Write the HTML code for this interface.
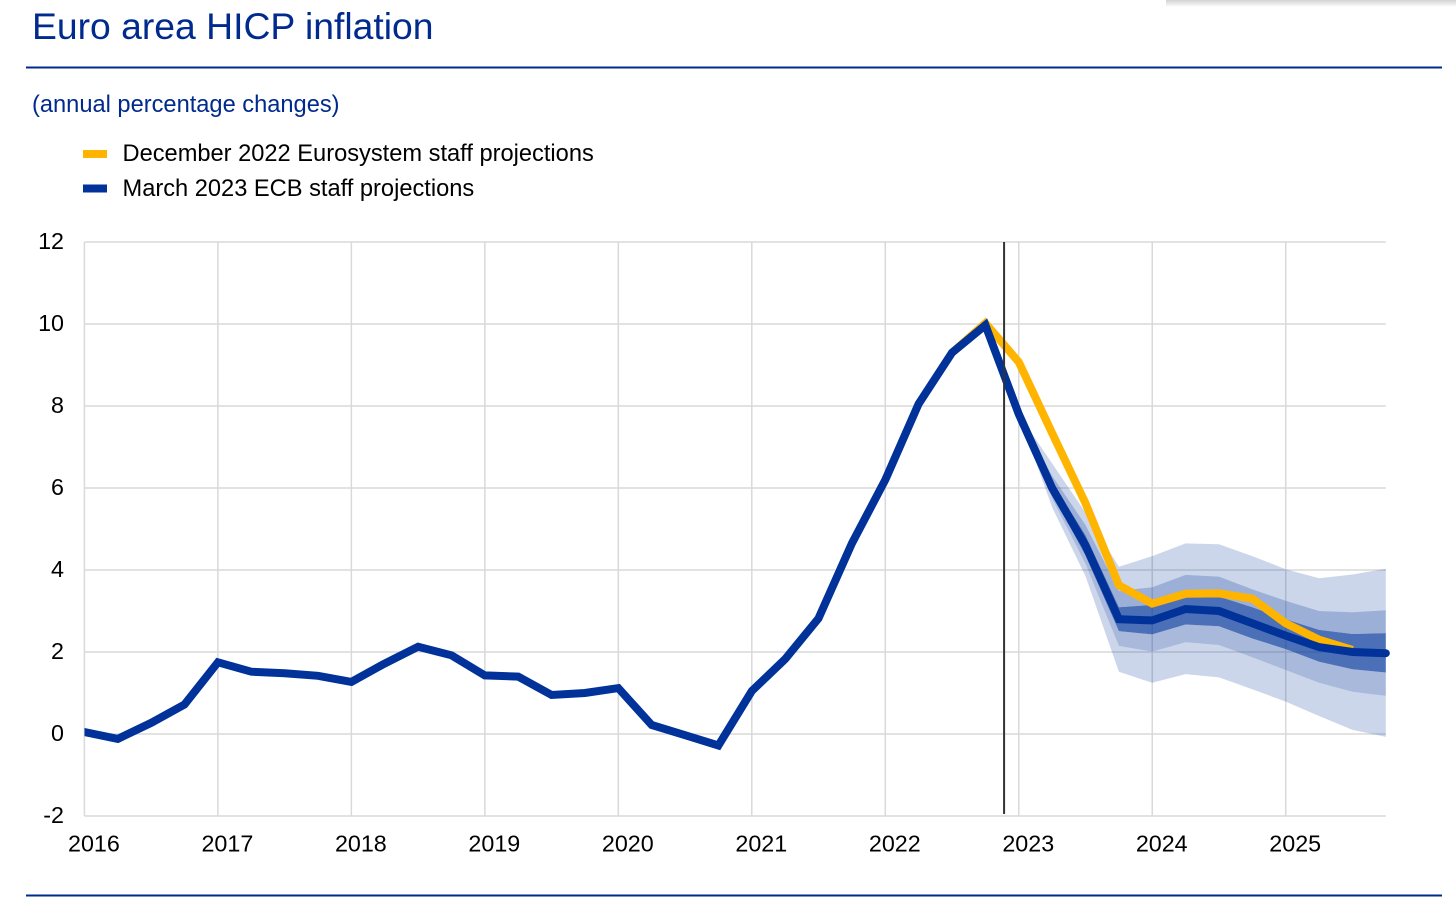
<!DOCTYPE html>
<html lang="en">
<head>
<meta charset="utf-8">
<title>Euro area HICP inflation</title>
<style>
html,body{margin:0;padding:0;background:#fff;width:1456px;height:906px;overflow:hidden}
svg{display:block;font-family:"Liberation Sans",Arial,sans-serif}
</style>
</head>
<body>
<svg id="chart" xmlns="http://www.w3.org/2000/svg" width="1456" height="906" viewBox="0 0 1456 906">
  <defs>
    <linearGradient id="shadowGrad" x1="0" y1="0" x2="0" y2="1">
      <stop offset="0" stop-color="#d2d2d2"/>
      <stop offset="1" stop-color="#ffffff"/>
    </linearGradient>
    <clipPath id="plotClip">
      <rect x="84.5" y="200" width="1360" height="640"/>
    </clipPath>
  </defs>
  <rect x="0" y="0" width="1456" height="906" fill="#ffffff"/>
  <rect x="1166" y="0" width="290" height="7" fill="url(#shadowGrad)"/>
  <text x="32" y="39" font-size="37.3" fill="#002a8e">Euro area HICP inflation</text>
  <rect x="26" y="66.5" width="1416" height="2" fill="#002a8e"/>
  <text x="32" y="112" font-size="23.65" fill="#002a8e">(annual percentage changes)</text>
  <rect x="83" y="150" width="24" height="8" fill="#ffb400"/>
  <text x="122.5" y="161" font-size="23.65" fill="#000000">December 2022 Eurosystem staff projections</text>
  <rect x="83" y="184.5" width="24" height="8" fill="#003299"/>
  <text x="122.5" y="196" font-size="23.65" fill="#000000">March 2023 ECB staff projections</text>
  <g id="grid"></g>
  <g id="bands"></g>
  <g id="series" clip-path="url(#plotClip)"></g>
  <g id="ticks"></g>
  <rect x="26" y="894.5" width="1416" height="2" fill="#002a8e"/>
</svg>
<script>
// Quarterly observations: index 0 = 2016 Q1, index 39 = 2025 Q4
const yearLabels = [2016, 2017, 2018, 2019, 2020, 2021, 2022, 2023, 2024, 2025];
const yTickValues = [-2, 0, 2, 4, 6, 8, 10, 12];

const march2023 = [
  0.05, -0.12, 0.27, 0.72,
  1.75, 1.52, 1.48, 1.42,
  1.27, 1.72, 2.13, 1.92,
  1.43, 1.40, 0.95, 1.00,
  1.12, 0.22, -0.03, -0.28,
  1.05, 1.83, 2.82, 4.65,
  6.20, 8.05, 9.30, 9.97,
  7.80, 6.00, 4.60, 2.80,
  2.77, 3.05, 3.00, 2.70,
  2.40, 2.12, 2.00, 1.97
];

// December 2022 projections begin at the 2022 Q3 observation
const december2022Start = 26;
const december2022 = [9.30, 10.02, 9.07, 7.34, 5.63, 3.63, 3.18, 3.42, 3.43, 3.30, 2.70, 2.30, 2.05];

// Projection ranges begin at 2023 Q1 (index 28)
const bandStart = 28;
const outerUpper = [7.80, 6.60, 5.40, 4.08, 4.34, 4.65, 4.63, 4.34, 4.02, 3.80, 3.89, 4.03];
const middleUpper = [7.80, 6.30, 5.10, 3.49, 3.58, 3.88, 3.84, 3.53, 3.25, 3.00, 2.97, 3.02];
const innerUpper = [7.80, 6.15, 4.85, 3.09, 3.15, 3.37, 3.35, 3.09, 2.80, 2.54, 2.44, 2.46];
const innerLower = [7.80, 5.85, 4.35, 2.51, 2.43, 2.67, 2.63, 2.33, 2.07, 1.76, 1.58, 1.50];
const middleLower = [7.80, 5.75, 4.15, 2.15, 2.01, 2.24, 2.17, 1.87, 1.56, 1.25, 1.03, 0.93];
const outerLower = [7.80, 5.53, 3.85, 1.52, 1.25, 1.46, 1.38, 1.09, 0.79, 0.44, 0.10, -0.07];

const lastObservedPosition = 27.56;

const svgNS = 'http://www.w3.org/2000/svg';
const xOrigin = 84.4, quarterWidth = 33.37;
const yZero = 734, unitHeight = 41;
const xAxis = i => xOrigin + i * quarterWidth;
const yAxis = v => yZero - v * unitHeight;

function make(tag, attrs, parent) {
  const el = document.createElementNS(svgNS, tag);
  for (const k in attrs) el.setAttribute(k, attrs[k]);
  parent.appendChild(el);
  return el;
}

const gridG = document.getElementById('grid');
const bandsG = document.getElementById('bands');
const seriesG = document.getElementById('series');
const ticksG = document.getElementById('ticks');
const plotRight = xAxis(39);

yTickValues.forEach(v => {
  const line = make('line', {x1: xOrigin, x2: plotRight, y1: yAxis(v), y2: yAxis(v), stroke: '#d9d9d9', 'stroke-width': 1.5}, gridG);
  
  
  const label = make('text', {x: 64, y: yAxis(v) + 7, 'text-anchor': 'end', 'font-size': 23.3, fill: '#000'}, ticksG);
  label.textContent = String(v);
  
  
});

yearLabels.forEach((year, n) => {
  const x = xAxis(n * 4);
  const line = make('line', {x1: x, x2: x, y1: yAxis(12), y2: yAxis(-2), stroke: '#d9d9d9', 'stroke-width': 1.5}, gridG);
  
  
  const label = make('text', {x: x + 9.5, y: 851.5, 'text-anchor': 'middle', 'font-size': 23.3, fill: '#000'}, ticksG);
  label.textContent = String(year);
  
  
});

function drawBand(upper, lower, opacity, name) {
  const top = upper.map((v, i) => xAxis(bandStart + i).toFixed(1) + ',' + yAxis(v).toFixed(1));
  const bottom = lower.map((v, i) => xAxis(bandStart + i).toFixed(1) + ',' + yAxis(v).toFixed(1)).reverse();
  const band = make('polygon', {points: top.concat(bottom).join(' '), fill: '#003399', 'fill-opacity': opacity}, bandsG);
  
  
}
drawBand(outerUpper, middleUpper, 0.2, 'range-outer-upper');
drawBand(middleUpper, innerUpper, 0.39, 'range-middle-upper');
drawBand(innerUpper, innerLower, 0.7, 'range-inner');
drawBand(innerLower, middleLower, 0.34, 'range-middle-lower');
drawBand(middleLower, outerLower, 0.2, 'range-outer-lower');

function drawLine(values, start, color, name, cap) {
  const pts = values.map((v, i) => xAxis(start + i).toFixed(1) + ',' + yAxis(v).toFixed(1)).join(' ');
  const line = make('polyline', {points: pts, fill: 'none', stroke: color, 'stroke-width': 8, 'stroke-linejoin': 'miter', 'stroke-linecap': cap}, seriesG);
  
  
}
drawLine(december2022, december2022Start, '#ffb400', 'line-december-2022', 'butt');
drawLine(march2023, 0, '#003299', 'line-march-2023', 'round');

const cutoff = make('line', {x1: xAxis(lastObservedPosition), x2: xAxis(lastObservedPosition), y1: yAxis(12), y2: 814, stroke: '#333333', 'stroke-width': 2}, seriesG);


</script>
</body>
</html>
